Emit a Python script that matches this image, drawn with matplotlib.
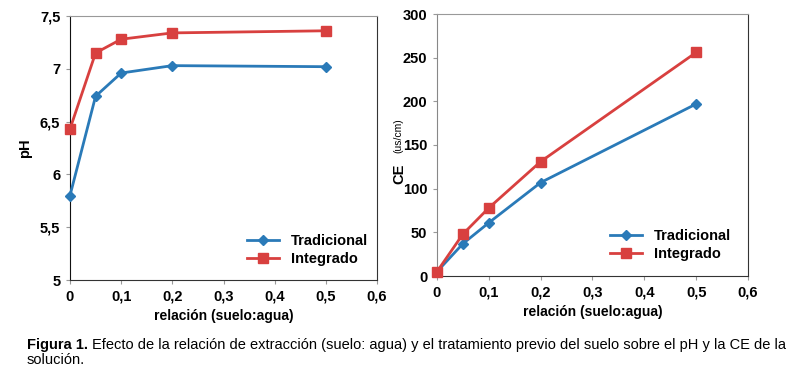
import matplotlib
matplotlib.use('Agg')
import matplotlib.pyplot as plt
from matplotlib.ticker import FuncFormatter

# datos
relacion = [0, 0.05, 0.1, 0.2, 0.5]
ph_trad = [5.8, 6.74, 6.96, 7.03, 7.02]
ph_integ = [6.43, 7.15, 7.28, 7.34, 7.36]
ce_trad = [5, 37, 61, 107, 197]
ce_integ = [5, 48, 78, 131, 256]

azul = '#2a7ab8'
rojo = '#d8403f'

plt.rcParams['font.family'] = ['Liberation Sans', 'DejaVu Sans']
plt.rcParams['font.weight'] = 'bold'

fig = plt.figure(figsize=(8.06, 3.78), dpi=100)
ax1 = fig.add_axes([70/806, 1-280/378, 307/806, 264/378])
ax2 = fig.add_axes([437/806, 1-276/378, 311/806, 262/378])

coma = FuncFormatter(lambda v, p: ('%g' % v).replace('.', ','))


def estilo(ax):
    ax.set_xlim(0, 0.6)
    ax.set_xticks([0, 0.1, 0.2, 0.3, 0.4, 0.5, 0.6])
    ax.xaxis.set_major_formatter(coma)
    ax.yaxis.set_major_formatter(coma)
    ax.tick_params(labelsize=10.5, length=3, width=0.8, color='#999999', pad=4)
    for t in ax.get_xticklabels() + ax.get_yticklabels():
        t.set_fontweight('bold')
    ax.spines['top'].set_color('#999999')
    ax.spines['right'].set_color('#333333')
    ax.spines['bottom'].set_color('#333333')
    ax.set_xlabel('relación (suelo:agua)', fontsize=10, fontweight='bold', labelpad=4)


ax1.plot(relacion, ph_trad, color=azul, lw=2, marker='D', ms=5, label='Tradicional', clip_on=False, zorder=3)
ax1.plot(relacion, ph_integ, color=rojo, lw=2, marker='s', ms=7.5, label='Integrado', clip_on=False, zorder=3)
ax1.set_ylim(5, 7.5)
ax1.set_yticks([5, 5.5, 6, 6.5, 7, 7.5])
estilo(ax1)
ax1.spines['left'].set_color('#111111')
ax1.set_ylabel('pH', fontsize=10.5, fontweight='bold', labelpad=6)
ax1.legend(loc='lower right', bbox_to_anchor=(0.99, 0.03), frameon=False,
           prop={'weight': 'bold', 'size': 10.5}, handlelength=2.2, labelspacing=0.3, borderaxespad=0)

ax2.plot(relacion, ce_trad, color=azul, lw=2, marker='D', ms=5, label='Tradicional', clip_on=False, zorder=3)
ax2.plot(relacion, ce_integ, color=rojo, lw=2, marker='s', ms=7.5, label='Integrado', clip_on=False, zorder=3)
ax2.set_ylim(0, 300)
ax2.set_yticks([0, 50, 100, 150, 200, 250, 300])
estilo(ax2)
ax2.spines['left'].set_color('#888888')
ax2.legend(loc='lower right', bbox_to_anchor=(0.965, 0.035), frameon=False,
           prop={'weight': 'bold', 'size': 10.5}, handlelength=2.2, labelspacing=0.3, borderaxespad=0)

fig.text(399/806, 1-174/378, 'CE', rotation=90, ha='center', va='center', fontsize=10.5, fontweight='bold')
fig.text(398/806, 1-136/378, '(us/cm)', rotation=90, ha='center', va='center', fontsize=7.5, fontweight='normal')

cap = {'fontsize': 10.5, 'va': 'center', 'family': 'Liberation Sans'}
t1 = fig.text(27/806, 1-345/378, 'Figura 1.', fontweight='bold', **cap)
fig.canvas.draw()
x_fin = t1.get_window_extent().x1 / fig.bbox.width
fig.text(x_fin + 4/806, 1-345/378,
         'Efecto de la relación de extracción (suelo: agua) y el tratamiento previo del suelo sobre el pH y la CE de la',
         fontweight='normal', **cap)
fig.text(27/806, 1-360/378, 'solución.', fontweight='normal', **cap)

fig.savefig('out.png', dpi=100)
